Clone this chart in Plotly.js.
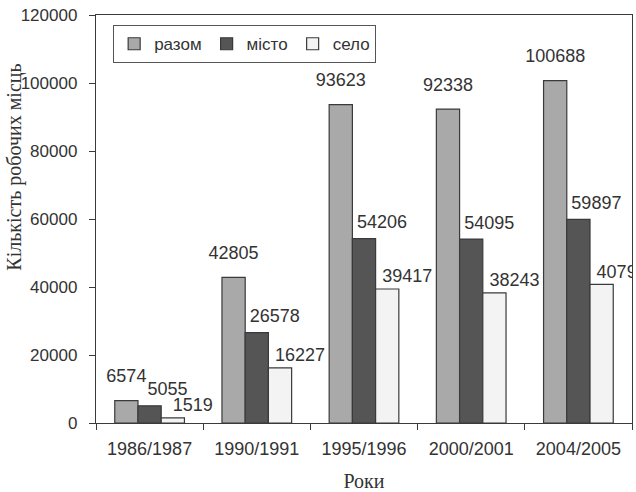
<!DOCTYPE html>
<html>
<head>
<meta charset="utf-8">
<script src="https://cdn.plot.ly/plotly-3.0.1.min.js"></script>
<style>html,body{margin:0;padding:0;background:#fff;}</style>
</head>
<body>
<div id="chart" style="width:636px;height:492px;"></div>
<script>
var years = ["1986/1987", "1990/1991", "1995/1996", "2000/2001", "2004/2005"];
var razom = [6574, 42805, 93623, 92338, 100688];
var misto = [5055, 26578, 54206, 54095, 59897];
var selo = [1519, 16227, 39417, 38243, 40797];
var seriesNames = ["разом", "місто", "село"];
var yTicks = [0, 20000, 40000, 60000, 80000, 100000, 120000];

var W = 636, H = 492, M = {l: 96, r: 4, t: 15, b: 69};
var plotW = W - M.l - M.r, plotH = H - M.t - M.b;
var yMax = 120000;
var bargap = 0.35;
var barW = (1 - bargap) / 3;           // bar width in category units
var pxX = plotW / years.length;        // px per category unit
var pxY = plotH / yMax;                // px per value unit

var lineCol = "#3a3a3a";
var fills = ["#a9a9a9", "#555555", "#f3f3f3"];
var allSeries = [razom, misto, selo];
// label placement (px): horizontal shift from bar centre, height of label centre above bar top
var labShift = [0, 18, 20];
var labRise = [23, 15, 11];

var data = [];
allSeries.forEach(function (vals, k) {
  data.push({
    type: "bar", name: seriesNames[k], x: years, y: vals,
    marker: {color: fills[k], line: {color: lineCol, width: 1.2}},
    hoverinfo: "none"
  });
});
allSeries.forEach(function (vals, k) {
  data.push({
    type: "scatter", mode: "text", xaxis: "x2", yaxis: "y",
    x: vals.map(function (v, i) { return i + (k - 1) * barW + labShift[k] / pxX; }),
    y: vals.map(function (v) { return v + labRise[k] / pxY; }),
    text: vals.map(String), textposition: "middle center",
    textfont: {family: "Liberation Sans, Arial, sans-serif", size: 18, color: "#333"},
    cliponaxis: true, showlegend: false, hoverinfo: "none"
  });
});

var layout = {
  width: W, height: H,
  margin: M,
  paper_bgcolor: "#fff", plot_bgcolor: "#fff",
  barmode: "group", bargap: bargap, bargroupgap: 0,
  font: {family: "Liberation Sans, Arial, sans-serif", color: "#333", size: 17},
  showlegend: true,
  legend: {orientation: "h", x: 0.032, y: 0.975, xanchor: "left", yanchor: "top",
    bordercolor: "#555", borderwidth: 1, bgcolor: "#fff",
    font: {size: 17, color: "#333"}, itemwidth: 30, tracegroupgap: 0, traceorder: "normal"},
  xaxis: {
    type: "category", showline: true, linecolor: lineCol, linewidth: 1.2, mirror: true,
    ticks: "outside", ticklen: 6, tickcolor: lineCol, tickson: "boundaries",
    ticklabelstandoff: 9,
    showgrid: false, tickfont: {size: 18, color: "#333"},
    range: [-0.5, years.length - 0.5],
    title: {text: "Роки", font: {family: "Liberation Serif, Times New Roman, serif", size: 20, color: "#333"}, standoff: 16}
  },
  xaxis2: {overlaying: "x", range: [-0.5, years.length - 0.5], visible: false, showgrid: false, zeroline: false},
  yaxis: {
    range: [0, yMax], tickvals: yTicks, ticktext: yTicks.map(String),
    showline: true, linecolor: lineCol, linewidth: 1.2, mirror: true,
    ticks: "outside", ticklen: 6, tickcolor: lineCol, showgrid: false, zeroline: false,
    ticklabelstandoff: 8,
    tickfont: {size: 17, color: "#333"}
  },
  annotations: [{
    text: "Кількість робочих місць", textangle: -90, showarrow: false,
    xref: "paper", yref: "paper", x: -0.152, y: 0.627, xanchor: "center", yanchor: "middle",
    font: {family: "Liberation Serif, Times New Roman, serif", size: 20, color: "#333"}
  }]
};
Plotly.newPlot("chart", data, layout, {displayModeBar: false, staticPlot: true});
</script>
</body>
</html>
